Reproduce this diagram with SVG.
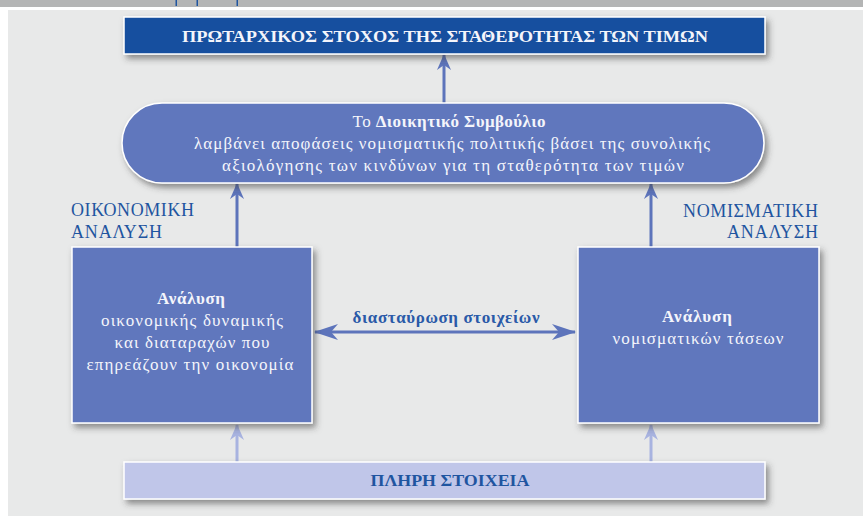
<svg xmlns="http://www.w3.org/2000/svg" width="863" height="516" viewBox="0 0 863 516">
  <defs>
    <filter id="sh" x="-10%" y="-20%" width="125%" height="150%">
      <feDropShadow dx="3" dy="4" stdDeviation="3" flood-color="#3a3a3a" flood-opacity="0.55"/>
    </filter>
    <marker id="ah" viewBox="0 0 16 14" refX="15" refY="7" markerWidth="16" markerHeight="14" markerUnits="userSpaceOnUse" orient="auto-start-reverse">
      <path d="M0,0 L16,7 L0,14 L5,7 z" fill="#5d74bb"/>
    </marker>
    <marker id="ahl" viewBox="0 0 16 14" refX="15" refY="7" markerWidth="16" markerHeight="14" markerUnits="userSpaceOnUse" orient="auto">
      <path d="M0,0 L16,7 L0,14 L5,7 z" fill="#a8b3e0"/>
    </marker>
    <marker id="ahw" viewBox="0 0 24 16" refX="23" refY="8" markerWidth="24" markerHeight="16" markerUnits="userSpaceOnUse" orient="auto-start-reverse">
      <path d="M0,0 L24,8 L0,16 L7,8 z" fill="#5d74bb"/>
    </marker>
  </defs>
  <style>
    .node { fill: #6177bd; stroke: #ffffff; stroke-width: 1.5; filter: url(#sh); }
    .w { fill: #f4f5fb; font-family: "Liberation Serif", "DejaVu Serif", serif; font-size: 17px; text-anchor: middle; }
    .b { font-weight: bold; }
    .lbl { fill: #1f55a0; font-family: "Liberation Serif", "DejaVu Serif", serif; font-size: 18px; }
    .conn { stroke: #5d74bb; stroke-width: 3; fill: none; }
    .connl { stroke: #a8b3e0; stroke-width: 3; fill: none; }
  </style>

  <!-- page background -->
  <rect x="0" y="0" width="863" height="516" fill="#ffffff"/>
  <rect x="8" y="10" width="855" height="506" fill="#e8e9e9"/>
  <rect x="0" y="0" width="863" height="7" fill="#b4b5b5"/>
  <g fill="#1f55a0">
    <rect x="175.5" y="0" width="1.5" height="6"/>
    <rect x="196.5" y="0" width="1.5" height="6"/>
    <rect x="236.5" y="0" width="1.5" height="6"/>
  </g>

  <!-- connectors -->
  <g id="connectors">
    <line class="conn" x1="444" y1="103" x2="444" y2="55" marker-end="url(#ah)"/>
    <line class="conn" x1="237" y1="247" x2="237" y2="184" marker-end="url(#ah)"/>
    <line class="conn" x1="651" y1="247" x2="651" y2="184" marker-end="url(#ah)"/>
    <line class="conn" x1="315" y1="332" x2="575" y2="332" marker-start="url(#ahw)" marker-end="url(#ahw)"/>
    <line class="connl" x1="237" y1="462" x2="237" y2="425" marker-end="url(#ahl)"/>
    <line class="connl" x1="651" y1="462" x2="651" y2="425" marker-end="url(#ahl)"/>
    <text x="446" y="323" font-family="Liberation Serif, DejaVu Serif, serif" font-size="17" font-weight="bold" fill="#2a5aa8" text-anchor="middle" textLength="187" lengthAdjust="spacing">διασταύρωση στοιχείων</text>
  </g>

  <!-- top goal -->
  <g id="goal">
    <rect x="124" y="17" width="641" height="37" fill="#154f9f" stroke="#ffffff" stroke-width="1.5" filter="url(#sh)"/>
    <text class="w b" x="445" y="42" font-size="17" textLength="526" lengthAdjust="spacingAndGlyphs">ΠΡΩΤΑΡΧΙΚΟΣ ΣΤΟΧΟΣ ΤΗΣ ΣΤΑΘΕΡΟΤΗΤΑΣ ΤΩΝ ΤΙΜΩΝ</text>
  </g>

  <!-- governing council -->
  <g id="council">
    <rect class="node" x="122" y="103" width="642" height="80" rx="40" ry="40"/>
    <text class="w" x="449" y="127" textLength="193" lengthAdjust="spacing"><tspan>Το </tspan><tspan class="b">Διοικητικό  Συμβούλιο</tspan></text>
    <text class="w" x="452" y="149" textLength="516" lengthAdjust="spacing">λαμβάνει αποφάσεις νομισματικής πολιτικής βάσει της συνολικής</text>
    <text class="w" x="453" y="171" textLength="462" lengthAdjust="spacing">αξιολόγησης των κινδύνων για τη σταθερότητα των τιμών</text>
  </g>

  <!-- economic analysis -->
  <g id="economic">
    <text class="lbl" x="71" y="216" textLength="123" lengthAdjust="spacing">ΟΙΚΟΝΟΜΙΚΗ</text>
    <text class="lbl" x="71" y="238" textLength="91" lengthAdjust="spacing">ΑΝΑΛΥΣΗ</text>
    <rect class="node" x="72" y="247" width="240" height="176"/>
    <text class="w b" x="191" y="304" font-size="18" textLength="68" lengthAdjust="spacing">Ανάλυση</text>
    <text class="w" x="192" y="326" textLength="182" lengthAdjust="spacing">οικονομικής δυναμικής</text>
    <text class="w" x="192" y="348" textLength="155" lengthAdjust="spacing">και διαταραχών που</text>
    <text class="w" x="190" y="370" textLength="207" lengthAdjust="spacing">επηρεάζουν την οικονομία</text>
  </g>

  <!-- monetary analysis -->
  <g id="monetary">
    <text class="lbl" x="818" y="217" text-anchor="end" textLength="135" lengthAdjust="spacing">ΝΟΜΙΣΜΑΤΙΚΗ</text>
    <text class="lbl" x="818" y="238" text-anchor="end" textLength="91" lengthAdjust="spacing">ΑΝΑΛΥΣΗ</text>
    <rect class="node" x="578" y="247" width="241" height="176"/>
    <text class="w b" x="697" y="322" font-size="18" textLength="70" lengthAdjust="spacing">Ανάλυση</text>
    <text class="w" x="698" y="344" textLength="171" lengthAdjust="spacing">νομισματικών τάσεων</text>
  </g>

  <!-- full data -->
  <g id="data">
    <rect x="124" y="462" width="641" height="37" fill="#c0c6e9" stroke="#ffffff" stroke-width="1.5" filter="url(#sh)"/>
    <text x="450" y="486" font-family="Liberation Serif, DejaVu Serif, serif" font-size="17" font-weight="bold" fill="#1f55a0" text-anchor="middle" textLength="159" lengthAdjust="spacingAndGlyphs">ΠΛΗΡΗ ΣΤΟΙΧΕΙΑ</text>
  </g>
</svg>
